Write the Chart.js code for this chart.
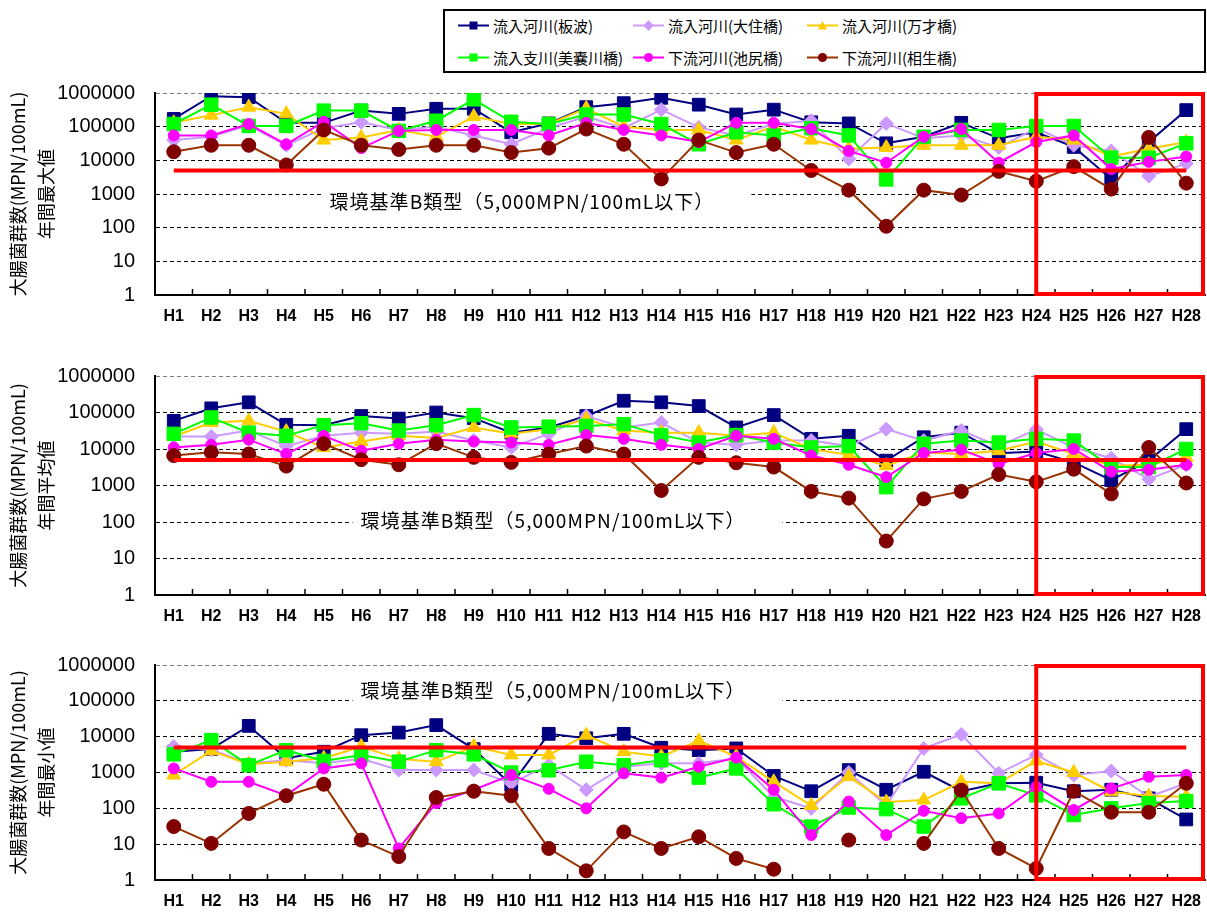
<!DOCTYPE html>
<html><head><meta charset="utf-8">
<script src="https://cdn.jsdelivr.net/npm/chart.js@4/dist/chart.umd.min.js"></script>
<style>
html,body{margin:0;padding:0;background:#fff;width:1207px;height:914px;overflow:hidden;font-family:"Noto Sans CJK JP",sans-serif;}
canvas{position:absolute;left:0;}
#legendBox{position:absolute;left:443px;top:9px;width:763px;height:64px;border:2px solid #000;box-sizing:border-box;}
.lg{position:absolute;display:flex;align-items:center;height:20px;font-size:15px;color:#000;white-space:nowrap;}
.lg svg{margin-right:4px;}
</style></head>
<body>
<div id="legendBox"></div>
<canvas id="c1" width="1207" height="250" style="top:80px"></canvas>
<canvas id="c2" width="1207" height="270" style="top:360px"></canvas>
<canvas id="c3" width="1207" height="264" style="top:650px"></canvas>
<script>
// ---------- data ----------
const categories = ['H1','H2','H3','H4','H5','H6','H7','H8','H9','H10','H11','H12','H13','H14','H15','H16','H17','H18','H19','H20','H21','H22','H23','H24','H25','H26','H27','H28'];
const yTicks = [1, 10, 100, 1000, 10000, 100000, 1000000];
const seriesNames = ['流入河川(板波)','流入河川(大住橋)','流入河川(万才橋)','流入支川(美嚢川橋)','下流河川(池尻橋)','下流河川(相生橋)'];
const STANDARD = 5000;
const noteText = '環境基準B類型（5,000MPN/100mL以下）';
const axisTitle = '大腸菌群数(MPN/100mL)';
const panelTitles = ['年間最大値','年間平均値','年間最小値'];

// 年間最大値
const maxItanami   = [170000,800000,750000,130000,130000,300000,240000,340000,340000,68000,125000,380000,500000,720000,450000,230000,320000,135000,125000,32000,50000,130000,45000,68000,25000,2800,35000,310000];
const maxOsumi     = [40000,50000,110000,28000,90000,135000,80000,100000,55000,30000,90000,200000,90000,320000,95000,55000,120000,150000,11000,125000,45000,55000,24000,90000,28000,19000,3400,8000];
const maxManzai    = [130000,220000,380000,240000,40000,48000,80000,50000,200000,120000,120000,350000,100000,80000,80000,40000,100000,40000,22000,24000,28000,28000,28000,50000,40000,13000,22000,35000];
const maxMinogawa  = [120000,450000,105000,105000,300000,300000,75000,150000,650000,140000,120000,230000,230000,120000,30000,68000,55000,90000,55000,2700,50000,80000,80000,105000,105000,12000,12000,32000];
const maxIkejiri   = [55000,55000,120000,30000,140000,23000,75000,80000,80000,80000,55000,130000,80000,55000,35000,130000,130000,85000,19000,8500,50000,85000,8500,35000,55000,5500,9000,13000];
const maxAioi      = [18000,28000,28000,7300,80000,28000,21000,28000,28000,17000,23000,85000,30000,2800,40000,17000,30000,5000,1300,110,1300,930,4700,2400,6500,1400,48000,2100];

// 年間平均値
const meanItanami  = [59000,130000,190000,46000,45000,80000,68000,100000,70000,28000,39000,80000,210000,190000,150000,39000,85000,19000,23000,4800,21000,28000,7700,8500,4300,1400,4800,35000];
const meanOsumi    = [22000,22000,32000,12000,23000,28000,26000,30000,17000,11000,26000,80000,39000,53000,15000,13000,17000,17000,12000,35000,17000,32000,12000,34000,11000,5600,1500,3700];
const meanManzai   = [22000,53000,59000,30000,11000,16000,23000,20000,39000,26000,35000,65000,32000,28000,28000,23000,28000,10000,6900,3500,8000,7300,9000,16000,7300,3500,3700,5900];
const meanMinogawa = [26000,73000,28000,23000,45000,51000,32000,45000,85000,39000,41000,43000,48000,24000,15000,24000,15000,11000,12000,900,14000,17000,15000,19000,17000,3200,3200,10000];
const meanIkejiri  = [11000,13000,18000,7300,23000,9000,14000,18000,16000,15000,13000,24000,19000,13000,10000,23000,19000,6600,3700,1700,7800,9600,3900,7800,10000,2400,2700,3700];
const meanAioi     = [6600,8100,7300,3400,14000,5100,3700,14000,5900,4300,7300,12000,7300,730,5900,4200,3200,690,450,30,430,690,2000,1260,2800,590,11000,1170];

// 年間最小値
const minItanami   = [3800,4500,20000,2500,3800,11000,13000,21000,4500,450,12000,9000,12000,4900,4200,4700,800,300,1170,330,1050,300,500,520,300,330,190,49];
const minOsumi     = [5300,4300,1800,2200,1800,2400,1170,1170,1170,500,1600,330,1450,1800,1800,2500,210,100,1000,120,4700,11500,950,3100,850,1100,210,500];
const minManzai    = [850,4000,1700,2000,2500,5300,2400,2000,5300,3100,3100,11000,3800,2800,7600,2800,550,120,770,150,170,550,500,2100,1000,290,220,210];
const minMinogawa  = [3200,8000,1600,4200,2100,3100,2000,4200,3200,1000,1150,2000,1600,2200,720,1300,130,31,105,95,31,190,500,230,65,100,140,160];
const minIkejiri   = [1300,550,550,230,1300,1800,7.6,140,330,850,350,100,950,720,1450,2600,330,18,155,18,85,53,72,400,90,360,760,850];
const minAioi      = [31,10.5,72,225,470,13,4.5,200,300,225,7.6,1.8,22,7.6,16,4,2,null,13,null,10.5,320,7.6,2.1,300,78,78,500];

// ---------- styles ----------
const seriesStyle = [
  {line:'#000080', fill:'#000080', shape:'rect',     r:9},
  {line:'#cc99ff', fill:'#cc99ff', shape:'rectRot',  r:7},
  {line:'#ffcc00', fill:'#ffcc00', shape:'triangle', r:8},
  {line:'#00ff00', fill:'#00ff00', shape:'rect',     r:9.5},
  {line:'#ff00ff', fill:'#ff00ff', shape:'circle',   r:5.5},
  {line:'#993300', fill:'#800000', shape:'circle',   r:7}
];
const FONT = '"Noto Sans CJK JP", sans-serif';

// ---------- legend ----------
const legendPos = [[458,15],[633,15],[807,15],[458,47],[633,47],[807,47]];
function markerSvg(s){
  let m='';
  if(s.shape==='rect') m='<rect x="11.5" y="4.5" width="8" height="8" fill="'+s.fill+'"/>';
  else if(s.shape==='rectRot') m='<polygon points="15.5,3 20.5,8.5 15.5,14 10.5,8.5" fill="'+s.fill+'"/>';
  else if(s.shape==='triangle') m='<polygon points="15.5,4 20,12.5 11,12.5" fill="'+s.fill+'"/>';
  else m='<circle cx="15.5" cy="8.5" r="4.5" fill="'+s.fill+'"/>';
  return '<svg width="31" height="17"><line x1="0" y1="8.5" x2="31" y2="8.5" stroke="'+s.line+'" stroke-width="2"/>'+m+'</svg>';
}
seriesNames.forEach((n,i)=>{
  const d=document.createElement('div');
  d.className='lg';
  d.style.left=legendPos[i][0]+'px';
  d.style.top=legendPos[i][1]+'px';
  d.innerHTML=markerSvg(seriesStyle[i])+'<span>'+n+'</span>';
  document.body.appendChild(d);
});

// ---------- charts ----------
const panels = [
  {id:'c1', values:[maxItanami,maxOsumi,maxManzai,maxMinogawa,maxIkejiri,maxAioi],      title:panelTitles[0], padTop:13, xh:35, noteX:4.15, noteY:600},
  {id:'c2', values:[meanItanami,meanOsumi,meanManzai,meanMinogawa,meanIkejiri,meanAioi], title:panelTitles[1], padTop:16, xh:35, noteX:4.98, noteY:105},
  {id:'c3', values:[minItanami,minOsumi,minManzai,minMinogawa,minIkejiri,minAioi],       title:panelTitles[2], padTop:15, xh:34, noteX:4.98, noteY:190000}
];

const decor = {
  id:'decor',
  beforeDatasetsDraw(chart, args, opts){
    const {ctx, chartArea:a, scales:{x,y}} = chart;
    ctx.save();
    ctx.strokeStyle='#000'; ctx.lineWidth=1.5;
    for(let i=0;i<categories.length-1;i++){
      const bx=(x.getPixelForValue(i)+x.getPixelForValue(i+1))/2;
      ctx.beginPath(); ctx.moveTo(bx,a.bottom); ctx.lineTo(bx,a.bottom-6); ctx.stroke();
    }
    ctx.font='19px '+FONT;
    const chars=[...noteText];
    const widths=chars.map(c=>ctx.measureText(c).width);
    const w0=widths.reduce((s,v)=>s+v,0);
    const target=384;
    const gap=(target-w0)/(chars.length-1);
    const tx=x.getPixelForValue(opts.noteX);
    const ty=y.getPixelForValue(opts.noteY);
    ctx.fillStyle='#fff';
    ctx.fillRect(tx-8, ty-12, target+46, 24);
    ctx.fillStyle='#000';
    ctx.textBaseline='middle';
    ctx.textAlign='left';
    let cx=tx;
    chars.forEach((c,i)=>{ ctx.fillText(c, cx, ty); cx+=widths[i]+gap; });
    ctx.restore();
  },
  afterDatasetsDraw(chart){
    const {ctx, chartArea:a, scales:{x}} = chart;
    const n=categories.length;
    const left=x.getPixelForValue(n-5);
    ctx.save();
    ctx.strokeStyle='#ff0000'; ctx.lineWidth=4;
    ctx.strokeRect(left, a.top+1, a.right-2-left, a.bottom-a.top-2);
    ctx.restore();
  }
};

panels.forEach(p=>{
  const datasets=[{
    label:'環境基準',
    data:[{x:categories[0],y:STANDARD},{x:categories[categories.length-1],y:STANDARD}],
    borderColor:'#ff0000', backgroundColor:'#ff0000', borderWidth:4, pointRadius:0, order:0
  }];
  p.values.forEach((v,i)=>{
    const s=seriesStyle[i];
    datasets.push({
      label:seriesNames[i], data:v,
      borderColor:s.line, backgroundColor:s.fill,
      pointBackgroundColor:s.fill, pointBorderColor:s.fill, pointBorderWidth:1,
      pointStyle:s.shape, pointRadius:s.r, borderWidth:2, tension:0,
      order:6-i
    });
  });
  new Chart(document.getElementById(p.id),{
    type:'line',
    data:{labels:categories, datasets},
    plugins:[decor],
    options:{
      responsive:false, animation:false, devicePixelRatio:1,
      layout:{autoPadding:false, padding:{top:p.padTop,right:2,left:0,bottom:0}},
      plugins:{legend:{display:false}, tooltip:{enabled:false}, decor:{noteX:p.noteX, noteY:p.noteY}},
      scales:{
        x:{
          type:'category', offset:true,
          grid:{display:false},
          border:{display:true,color:'#000',width:2},
          ticks:{color:'#000', font:{family:'"Liberation Sans", sans-serif', size:16, weight:'bold'}, padding:4, maxRotation:0, autoSkip:false},
          afterFit:s=>{s.height=p.xh; s.paddingLeft=0; s.paddingRight=0; s.paddingTop=0; s.paddingBottom=0;}
        },
        y:{
          type:'logarithmic', min:1, max:1000000,
          afterBuildTicks:s=>{s.ticks=yTicks.map(v=>({value:v}));},
          ticks:{callback:v=>String(v), color:'#000', font:{family:'"Liberation Sans", sans-serif', size:20}, padding:20},
          grid:{drawTicks:false, lineWidth:1,
            color:c=>{const v=c.tick&&c.tick.value; return v===1000000?'#808080':(v===1?'rgba(0,0,0,0)':'#000');}},
          border:{display:true,color:'#000',width:2,dash:[4,3]},
          title:{display:true, text:[axisTitle,p.title], color:'#000', font:{family:FONT,size:18,lineHeight:1.55}, padding:{top:4,bottom:0}},
          afterFit:s=>{s.width=155; s.paddingTop=0; s.paddingBottom=0; s.paddingLeft=0; s.paddingRight=0;}
        }
      }
    }
  });
});
</script>
</body></html>
